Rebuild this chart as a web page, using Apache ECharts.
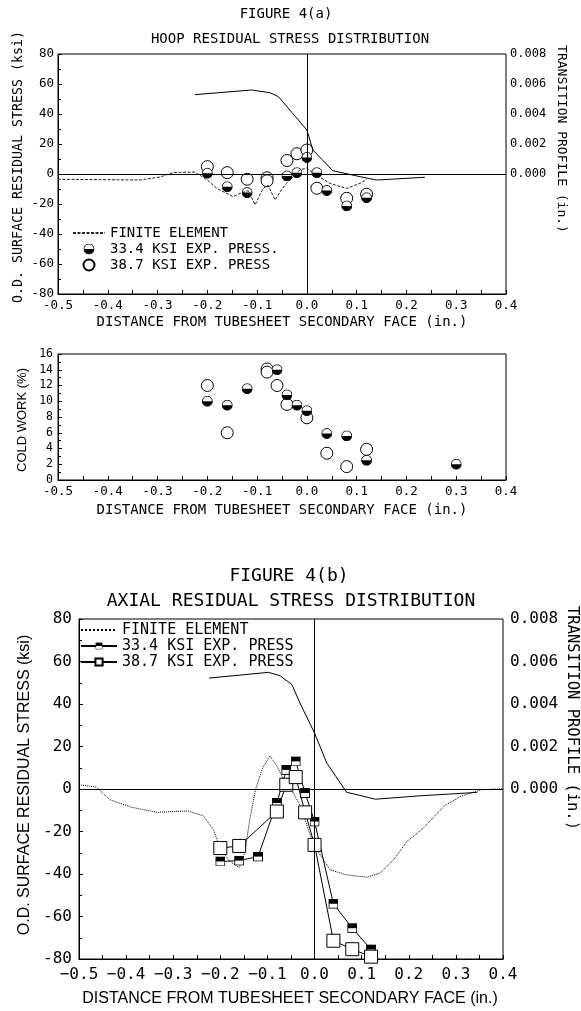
<!DOCTYPE html>
<html>
<head>
<meta charset="utf-8">
<title>Figure 4</title>
<script src="https://cdn.jsdelivr.net/npm/echarts@6/dist/echarts.min.js"></script>
<style>
  html, body { margin: 0; padding: 0; background: #fff; }
  #chart { width: 581px; height: 1011px; }
</style>
</head>
<body>
<div id="chart"></div>
<script>
// ---- figure 4(a): hoop residual stress, [distance (in.), ksi]
var hoopFE = [[-0.5, -3.5], [-0.4, -3.8], [-0.335, -4], [-0.295, -2], [-0.268, 1], [-0.225, 1.3], [-0.2, -4],
  [-0.181, -9.6], [-0.148, -15.1], [-0.134, -12.9], [-0.118, -11.1], [-0.104, -20.5], [-0.088, -9.6],
  [-0.078, -7.5], [-0.064, -17.3], [-0.054, -12], [-0.041, -6.2], [-0.014, 2.7], [0.0, 4], [0.013, 0.5],
  [0.046, -6.2], [0.08, -9.6], [0.107, -6.2], [0.12, -3.5]];
// transition profile (in.)
var hoopProfile = [[-0.225, 0.00529], [-0.111, 0.0056], [-0.074, 0.00542], [-0.057, 0.00515], [0.0, 0.00293],
  [0.012, 0.0016], [0.052, 0.00022], [0.107, -0.00018], [0.14, -0.0004], [0.237, -0.00022]];
var hoop334 = [[-0.2, 0.5], [-0.16, -8.5], [-0.12, -12.4], [-0.04, -1.3], [-0.02, 0.9], [0.0, 11], [0.02, 0.9],
  [0.04, -11], [0.08, -21.3], [0.12, -15.8]];
var hoop387 = [[-0.2, 4.9], [-0.16, 0.9], [-0.12, -3.5], [-0.08, -2.5], [-0.08, -4.5], [-0.04, 9], [-0.02, 13.5],
  [0.0, 16], [0.02, -9.5], [0.08, -16.2], [0.12, -13.5]];

// cold work (%)
var cold334 = [[-0.2, 10], [-0.16, 9.5], [-0.12, 11.6], [-0.06, 14], [-0.04, 10.8], [-0.02, 9.5], [0.0, 8.8],
  [0.04, 5.9], [0.08, 5.6], [0.12, 2.5], [0.3, 2.0]];
var cold387 = [[-0.2, 12], [-0.16, 6], [-0.08, 14.1], [-0.08, 13.7], [-0.06, 12], [-0.04, 9.6], [0.0, 7.9],
  [0.04, 3.4], [0.08, 1.7], [0.12, 3.9]];

// ---- figure 4(b): axial residual stress
var axialFE = [[-0.5, 2], [-0.463, 0.9], [-0.435, -5], [-0.39, -8.5], [-0.335, -11], [-0.27, -10.3], [-0.236, -12.6],
  [-0.215, -19], [-0.2, -28], [-0.18, -34], [-0.16, -37], [-0.148, -30], [-0.138, -15], [-0.125, 0], [-0.11, 10],
  [-0.095, 15.5], [-0.08, 11], [-0.065, 4], [-0.05, 0], [-0.03, -8], [-0.015, -18], [0.0, -27], [0.033, -38],
  [0.068, -40.4], [0.111, -41.5], [0.139, -39.6], [0.168, -33.3], [0.196, -24.7], [0.231, -18.4], [0.274, -8.2],
  [0.31, -3.5], [0.352, -0.4], [0.387, 0], [0.4, 0]];
var axialProfile = [[-0.224, 0.00522], [-0.098, 0.00549], [-0.073, 0.00533], [-0.048, 0.00491], [-0.031, 0.00405],
  [0.0, 0.00263], [0.026, 0.00122], [0.068, -0.00015], [0.129, -0.00048], [0.224, -0.00032], [0.345, -0.00016]];
var axial334 = [[-0.2, -34.1], [-0.16, -33.7], [-0.12, -31.8], [-0.08, -6.6], [-0.06, 9], [-0.04, 13], [-0.02, -1.9],
  [0.0, -15.3], [0.04, -54], [0.08, -65.5], [0.12, -75.5]];
var axial387 = [[-0.2, -27.8], [-0.16, -26.8], [-0.08, -10.6], [-0.06, 2], [-0.04, 5.6], [-0.02, -11], [0.0, -26.3],
  [0.04, -71.4], [0.08, -75.4], [0.12, -78.9]];

var MONO = "'DejaVu Sans Mono', monospace";
var SANS = "'Liberation Sans', Arial, sans-serif";

// half filled markers
var HALF_CIRCLE = "image://data:image/svg+xml;charset=utf-8," + encodeURIComponent(
  "<svg xmlns='http://www.w3.org/2000/svg' width='24' height='24' viewBox='0 0 24 24'>" +
  "<circle cx='12' cy='12' r='11' fill='#fff' stroke='#000' stroke-width='2'/>" +
  "<path d='M1 12 A11 11 0 0 0 23 12 Z' fill='#000'/></svg>");
var HALF_SQUARE = "image://data:image/svg+xml;charset=utf-8," + encodeURIComponent(
  "<svg xmlns='http://www.w3.org/2000/svg' width='20' height='20' viewBox='0 0 20 20'>" +
  "<rect x='1' y='1' width='18' height='18' fill='#fff' stroke='#000' stroke-width='2'/>" +
  "<rect x='1' y='1' width='18' height='9' fill='#000'/></svg>");

function xAxisOf(grid, size, minus, margin) {
  return {
    gridIndex: grid, type: "value", min: -0.5, max: 0.4, interval: 0.1,
    axisLine: { show: true, onZero: false, lineStyle: { color: "#000", width: 1 } },
    axisTick: { show: true, inside: true, length: 4, lineStyle: { color: "#000" } },
    minorTick: { show: true, splitNumber: 2, length: 4, lineStyle: { color: "#000" } },
    splitLine: { show: false },
    axisLabel: {
      color: "#000", fontFamily: MONO, fontSize: size, margin: margin,
      formatter: function (v) {
        var s = Math.abs(v).toFixed(1);
        return v < -1e-9 ? minus + s : s;
      },
    },
  };
}

function leftAxis(grid, min, max, interval, minor, size, margin) {
  return {
    gridIndex: grid, type: "value", min: min, max: max, interval: interval,
    axisLine: { show: true, onZero: false, lineStyle: { color: "#000", width: 1 } },
    axisTick: { show: true, inside: true, length: 4, lineStyle: { color: "#000" } },
    minorTick: { show: true, splitNumber: minor, length: 3, lineStyle: { color: "#000" } },
    splitLine: { show: false },
    axisLabel: { color: "#000", fontFamily: MONO, fontSize: size, margin: margin },
  };
}

function rightAxis(grid, size, margin) {
  return {
    gridIndex: grid, type: "value", position: "right", min: -0.008, max: 0.008, interval: 0.002,
    axisLine: { show: false, onZero: false },
    axisTick: { show: false },
    splitLine: { show: false },
    axisLabel: {
      color: "#000", fontFamily: MONO, fontSize: size, margin: margin,
      formatter: function (v) { return v < -1e-9 ? "" : v.toFixed(3); },
    },
  };
}

function zeroLines() {
  return {
    silent: true, symbol: ["none", "none"], label: { show: false },
    lineStyle: { color: "#000", type: "solid", width: 1 },
    emphasis: { disabled: true },
    data: [{ yAxis: 0 }, { xAxis: 0 }],
  };
}

function txt(text, x, y, font, rot) {
  return {
    type: "text", x: x, y: y, rotation: rot || 0, silent: true,
    style: { text: text, font: font, fill: "#000", align: "center", verticalAlign: "middle" },
  };
}

var chart = echarts.init(document.getElementById("chart"), null, { renderer: "canvas" });

var gridBase = { show: true, borderColor: "#000", borderWidth: 1, backgroundColor: "transparent", containLabel: false, outerBoundsMode: "none" };

var option = {
  animation: false,
  backgroundColor: "#fff",
  grid: [
    Object.assign({ left: 58, top: 54, width: 448, height: 240 }, gridBase),
    Object.assign({ left: 58, top: 354, width: 448, height: 126 }, gridBase),
    Object.assign({ left: 79, top: 619, width: 424, height: 340 }, gridBase),
  ],
  xAxis: [
    xAxisOf(0, 12.5, "-", 5),
    xAxisOf(1, 12.5, "-", 5),
    xAxisOf(2, 16, "\u2212", 8),
  ],
  yAxis: [
    leftAxis(0, -80, 80, 20, 2, 12.5, 4),
    rightAxis(0, 12, 4),
    leftAxis(1, 0, 16, 2, 2, 11.5, 5),
    leftAxis(2, -80, 80, 20, 2, 16, 7),
    rightAxis(2, 16, 7),
  ],
  legend: [
    {
      left: 72, top: 225, orient: "vertical", padding: 0, itemGap: 0,
      itemWidth: 32, itemHeight: 11, selectedMode: false,
      textStyle: { color: "#000", fontFamily: MONO, fontSize: 14, lineHeight: 16 },
      data: [
        { name: "FINITE ELEMENT", itemStyle: { opacity: 0 } },
        "33.4 KSI EXP. PRESS.",
        "38.7 KSI EXP. PRESS",
      ],
    },
    {
      left: 80, top: 622, orient: "vertical", padding: 0, itemGap: 0,
      itemWidth: 36, itemHeight: 9, selectedMode: false,
      textStyle: { color: "#000", fontFamily: MONO, fontSize: 15, lineHeight: 16 },
      data: [
        { name: "FINITE ELEMENT ", itemStyle: { opacity: 0 } },
        "33.4 KSI EXP. PRESS",
        "38.7 KSI EXP. PRESS ",
      ],
    },
  ],
  graphic: [
    txt("FIGURE 4(a)", 286, 14, "14px " + MONO),
    txt("HOOP RESIDUAL STRESS DISTRIBUTION", 290, 39, "14px " + MONO),
    txt("O.D. SURFACE RESIDUAL STRESS (ksi)", 19, 167, "13.3px " + MONO, Math.PI / 2),
    txt("TRANSITION PROFILE (in.)", 561, 139, "13px " + MONO, -Math.PI / 2),
    txt("DISTANCE FROM TUBESHEET SECONDARY FACE (in.)", 282, 322, "14px " + MONO),
    txt("COLD WORK (%)", 22, 420, "13px " + SANS, Math.PI / 2),
    txt("DISTANCE FROM TUBESHEET SECONDARY FACE (in.)", 282, 510, "14px " + MONO),
    txt("FIGURE 4(b)", 289, 576, "18px " + MONO),
    txt("AXIAL RESIDUAL STRESS DISTRIBUTION", 291, 601, "18px " + MONO),
    txt("O.D. SURFACE RESIDUAL STRESS (ksi)", 25, 785, "16px " + SANS, Math.PI / 2),
    txt("TRANSITION PROFILE (in.)", 572, 718, "15.5px " + MONO, -Math.PI / 2),
    txt("DISTANCE FROM TUBESHEET SECONDARY FACE (in.)", 290, 999, "16px " + SANS),
  ],
  series: [
    // ---- 4(a)
    {
      name: "FINITE ELEMENT", type: "line", xAxisIndex: 0, yAxisIndex: 0,
      symbol: "none", smooth: false, silent: true,
      lineStyle: { color: "#222", width: 1, type: [3, 1.5] },
      itemStyle: { color: "#222" },
      markLine: zeroLines(),
      data: hoopFE,
    },
    {
      name: "profile a", type: "line", xAxisIndex: 0, yAxisIndex: 1,
      symbol: "none", silent: true,
      lineStyle: { color: "#000", width: 1 },
      data: hoopProfile,
    },
    {
      name: "38.7 KSI EXP. PRESS", type: "scatter", xAxisIndex: 0, yAxisIndex: 0,
      symbol: "circle", symbolSize: 12, silent: true,
      itemStyle: { color: "#fff", borderColor: "#000", borderWidth: 1, opacity: 1 },
      data: hoop387,
    },
    {
      name: "33.4 KSI EXP. PRESS.", type: "scatter", xAxisIndex: 0, yAxisIndex: 0,
      symbol: HALF_CIRCLE, symbolSize: 11, symbolKeepAspect: true, silent: true,
      itemStyle: { color: "#000", opacity: 1 },
      data: hoop334,
    },
    // ---- cold work
    {
      name: "38.7 KSI EXP. PRESS", type: "scatter", xAxisIndex: 1, yAxisIndex: 2,
      symbol: "circle", symbolSize: 12, silent: true,
      itemStyle: { color: "#fff", borderColor: "#000", borderWidth: 1, opacity: 1 },
      data: cold387,
    },
    {
      name: "33.4 KSI EXP. PRESS.", type: "scatter", xAxisIndex: 1, yAxisIndex: 2,
      symbol: HALF_CIRCLE, symbolSize: 11, symbolKeepAspect: true, silent: true,
      itemStyle: { color: "#000", opacity: 1 },
      data: cold334,
    },
    // ---- 4(b)
    {
      name: "FINITE ELEMENT ", type: "line", xAxisIndex: 2, yAxisIndex: 3,
      symbol: "none", silent: true,
      lineStyle: { color: "#000", width: 1, type: "dotted" },
      itemStyle: { color: "#000" },
      markLine: zeroLines(),
      data: axialFE,
    },
    {
      name: "profile b", type: "line", xAxisIndex: 2, yAxisIndex: 4,
      symbol: "none", silent: true,
      lineStyle: { color: "#000", width: 1 },
      data: axialProfile,
    },
    {
      name: "33.4 KSI EXP. PRESS", type: "line", xAxisIndex: 2, yAxisIndex: 3,
      symbol: HALF_SQUARE, symbolSize: 10, symbolKeepAspect: true, showAllSymbol: true, silent: true,
      lineStyle: { color: "#000", width: 1 },
      itemStyle: { color: "#000" },
      data: axial334,
    },
    {
      name: "38.7 KSI EXP. PRESS ", type: "line", xAxisIndex: 2, yAxisIndex: 3,
      symbol: "rect", symbolSize: 13, showAllSymbol: true, silent: true,
      lineStyle: { color: "#000", width: 1 },
      itemStyle: { color: "#fff", borderColor: "#000", borderWidth: 1 },
      data: axial387,
    },
  ],
};

chart.setOption(option);
</script>
</body>
</html>
